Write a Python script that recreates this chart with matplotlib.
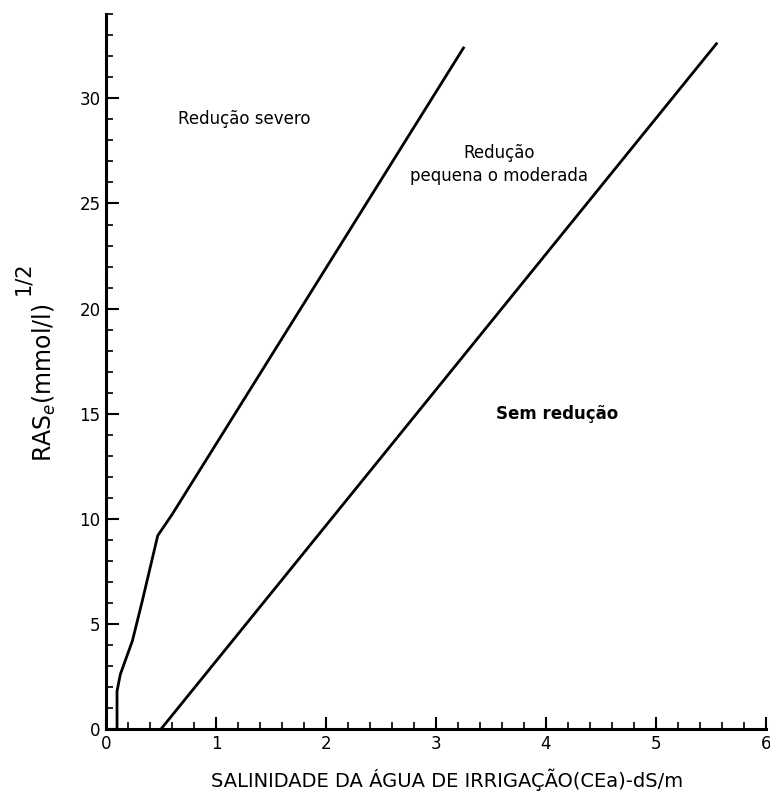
import numpy as np
import matplotlib
matplotlib.use('Agg')
import matplotlib.pyplot as plt
from matplotlib.ticker import MultipleLocator

# limite entre reducao severa e reducao pequena/moderada
cea_severa = [0.1, 0.1, 0.13, 0.24, 0.33, 0.47, 0.6, 3.25]
ras_severa = [0.0, 1.8, 2.6, 4.2, 6.1, 9.2, 10.2, 32.4]

# limite entre reducao pequena/moderada e sem reducao
cea_sem = [0.5, 5.55]
ras_sem = [0.0, 32.6]

xticks = [0, 1, 2, 3, 4, 5, 6]
yticks = [0, 5, 10, 15, 20, 25, 30]

fig = plt.figure(figsize=(7.7, 7.95), dpi=100)
ax = fig.add_axes([0.1377, 0.083, 0.857, 0.899])

ax.plot(cea_severa, ras_severa, color='black', lw=2.0)
ax.plot(cea_sem, ras_sem, color='black', lw=2.0)

ax.set_xlim(0, 6)
ax.set_ylim(0, 34)
ax.spines['top'].set_visible(False)
ax.spines['right'].set_visible(False)
ax.spines['left'].set_linewidth(2.2)
ax.spines['bottom'].set_linewidth(2.2)

ax.set_xticks(xticks)
ax.set_yticks(yticks)
ax.xaxis.set_minor_locator(MultipleLocator(0.2))
ax.yaxis.set_minor_locator(MultipleLocator(1))
ax.tick_params(which='major', direction='in', length=9, width=1.5, labelsize=12, pad=4)
ax.tick_params(which='minor', direction='in', length=5, width=1.2)

ax.text(1.26, 29.0, 'Redução severo', fontsize=12, ha='center', va='center')
ax.text(3.57, 27.4, 'Redução', fontsize=12, ha='center', va='center')
ax.text(3.57, 26.3, 'pequena o moderada', fontsize=12, ha='center', va='center')
ax.text(4.1, 15.0, 'Sem redução', fontsize=12, fontweight='bold', ha='center', va='center')

ax.set_xlabel('SALINIDADE DA ÁGUA DE IRRIGAÇÃO(CEa)-dS/m',
              family=['Liberation Sans Narrow', 'DejaVu Sans'], fontsize=14)
ax.xaxis.set_label_coords(0.517, -0.055)
ax.set_ylabel('RAS$_e$(mmol/l)', fontsize=17)
ax.yaxis.set_label_coords(-0.073, 0.485)
fig.text(0.030, 0.650, '1/2', rotation=90, fontsize=15, ha='center', va='center')

plt.savefig('out.png', dpi=100)
